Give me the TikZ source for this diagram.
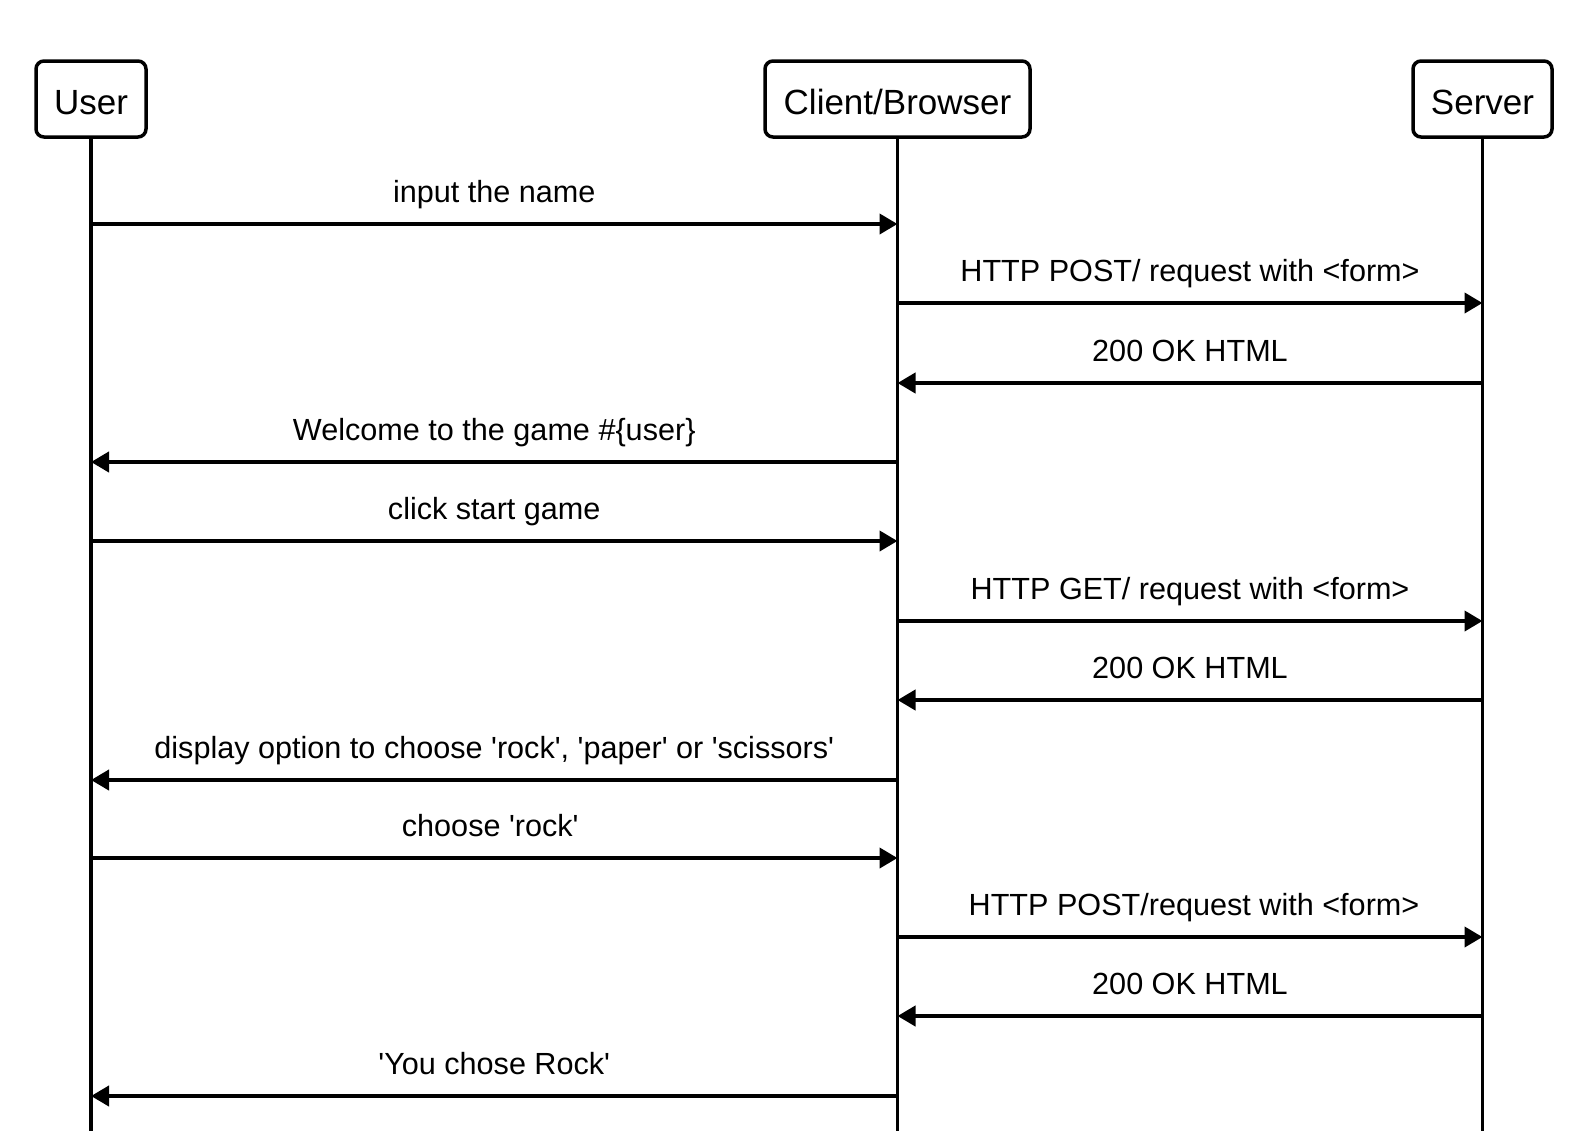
\documentclass[tikz,border=0pt]{standalone}
\usepackage{fontspec}
\setmainfont{Liberation Sans}
\usetikzlibrary{arrows.meta}
\newcommand{\sq}{\textquotesingle}
\begin{document}
\begin{tikzpicture}[x=1pt,y=-1pt,
  actor/.style={draw,line width=3.5pt,rounded corners=8pt,minimum height=76pt,
    inner sep=0pt,text height=31pt,text depth=0pt,font=\fontsize{35}{40}\selectfont},
  life/.style={line width=3.2pt},
  msg/.style={line width=4pt,-{Triangle[length=18pt,width=20pt]}},
  lbl/.style={anchor=base,inner sep=0pt,yshift=21.5pt,font=\fontsize{30.6}{36}\selectfont}]
\fill[white] (0,0) rectangle (1596,1144);
\useasboundingbox (0,0) rectangle (1596,1144);
\node[actor,minimum width=110pt] (u) at (91,99) {User};
\node[actor,minimum width=265pt] (c) at (897.5,99) {Client/Browser};
\node[actor,minimum width=139pt] (s) at (1482.5,99) {Server};
\coordinate (ue) at (91,1131);
\coordinate (ce) at (897.5,1131);
\coordinate (se) at (1482.5,1131);
\draw[life] (u) -- (ue);
\draw[life] (c) -- (ce);
\draw[life] (s) -- (se);
% messages
\draw[msg] (u |- 0,224) -- node[lbl]{input the name} (c |- 0,224);
\draw[msg] (c |- 0,303) -- node[lbl]{HTTP POST/ request with <form>} (s |- 0,303);
\draw[msg] (s |- 0,383) -- node[lbl]{200 OK HTML} (c |- 0,383);
\draw[msg] (c |- 0,462) -- node[lbl]{Welcome to the game \#\{user\}} (u |- 0,462);
\draw[msg] (u |- 0,541) -- node[lbl]{click start game} (c |- 0,541);
\draw[msg] (c |- 0,621) -- node[lbl]{HTTP GET/ request with <form>} (s |- 0,621);
\draw[msg] (s |- 0,700) -- node[lbl]{200 OK HTML} (c |- 0,700);
\draw[msg] (c |- 0,780) -- node[lbl]{display option to choose \sq rock\sq, \sq paper\sq{} or \sq scissors\sq} (u |- 0,780);
\draw[msg] (u |- 0,858) -- node[lbl,xshift=-4pt]{choose \sq rock\sq} (c |- 0,858);
\draw[msg] (c |- 0,937) -- node[lbl,xshift=4pt]{HTTP POST/request with <form>} (s |- 0,937);
\draw[msg] (s |- 0,1016) -- node[lbl]{200 OK HTML} (c |- 0,1016);
\draw[msg] (c |- 0,1096) -- node[lbl]{\sq You chose Rock\sq} (u |- 0,1096);
\end{tikzpicture}
\end{document}
